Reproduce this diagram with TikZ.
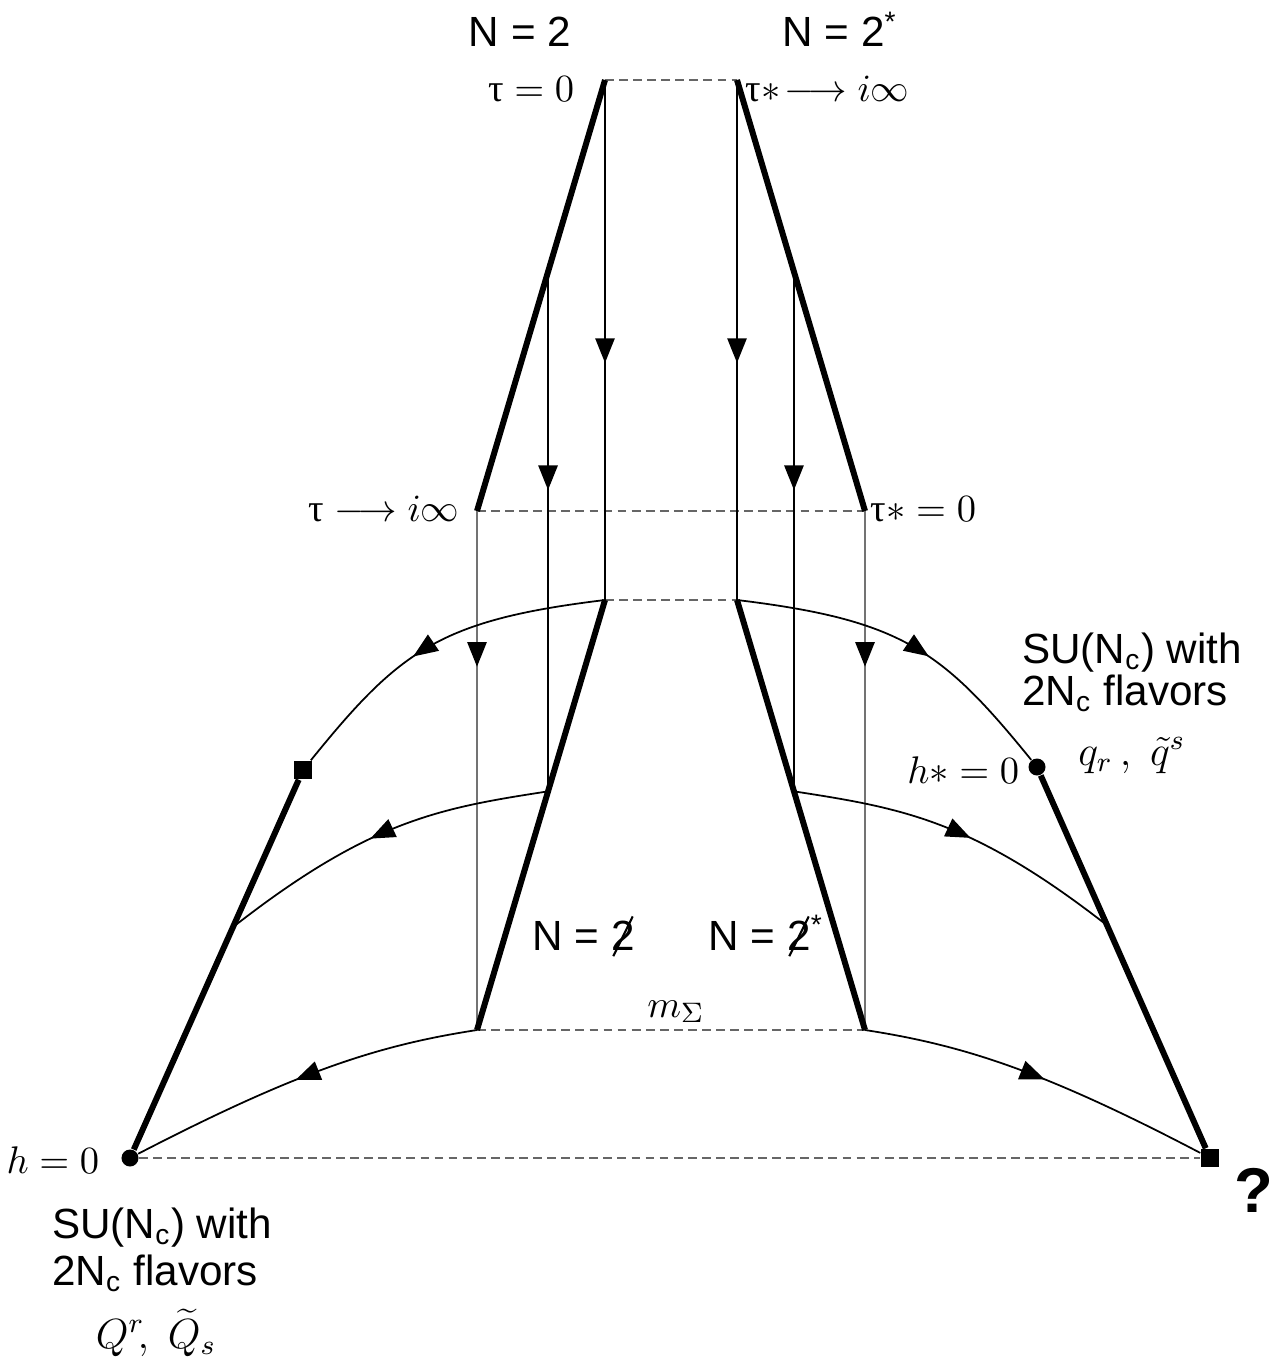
\documentclass[tikz,border=0pt]{standalone}
\usepackage{fontspec}
\setsansfont{Liberation Sans}
\newfontfamily\greekfont{Liberation Serif}
\usetikzlibrary{arrows.meta,decorations.markings,calc}
\newcommand{\tauup}{\mbox{\greekfont τ}}
\newcommand{\nottwo}{\ooalign{\hfil2\hfil\cr
    \hfil\raisebox{0.3em}[0pt][0pt]{\rotatebox[origin=c]{64}{\rule{1.05em}{0.05em}}}\hfil\cr}}

\begin{document}
\begin{tikzpicture}[x=0.01cm, y=-0.01cm, % 以像素为单位, y 向下
    thickline/.style={line width=1.7pt},
    thinline/.style={line width=0.5pt},
    grayline/.style={line width=0.5pt, black!55},
    guide/.style={line width=0.5pt, black!60, dash pattern=on 2.5pt off 1.5pt},
    midarrow/.style={postaction={decorate}, decoration={markings,
        mark=at position #1 with {\arrow[black]{Triangle[length=7pt, width=5.5pt]}}}},
    rdot/.style={circle, fill, inner sep=0pt, minimum size=0.17cm},
    sqdot/.style={rectangle, fill, inner sep=0pt, minimum size=0.18cm},
    sflabel/.style={font=\fontsize{12}{14}\selectfont\sffamily, inner sep=0pt},
    mathlabel/.style={font=\fontsize{11}{13}\selectfont, inner sep=0pt}]
    \useasboundingbox (0,0) rectangle (1283,1370);

    % --- 定义坐标和端点 ---
    \coordinate (topL) at (605,80);
    \coordinate (topR) at (737,80);
    \coordinate (midL) at (477,511);
    \coordinate (midR) at (865,511);
    \coordinate (cenL) at (605,600);
    \coordinate (cenR) at (737,600);
    \coordinate (lowL) at (477,1030);
    \coordinate (lowR) at (865,1030);
    \node[sqdot] (sqL) at (303,770) {};
    \node[rdot] (dotR) at (1037,767) {};
    \node[rdot] (dotL) at (130,1158) {};
    \node[sqdot] (sqR) at (1210,1158) {};

    % 粗线上的交点
    \coordinate (upL) at ($(topL)!0.445!(midL)$);
    \coordinate (upR) at ($(topR)!0.445!(midR)$);
    \coordinate (dnL) at ($(cenL)!0.445!(lowL)$);
    \coordinate (dnR) at ($(cenR)!0.445!(lowR)$);
    \coordinate (sideL) at ($(dotL)!0.595!(sqL)$);
    \coordinate (sideR) at ($(sqR)!0.595!(dotR)$);

    % --- 绘制虚线 ---
    \draw[guide] (topL) -- (topR);
    \draw[guide] (midL) -- (midR);
    \draw[guide] (cenL) -- (cenR);
    \draw[guide] (lowL) -- (lowR);
    \draw[guide] (dotL) -- (sqR);

    % --- 绘制竖直的流线 (向下) ---
    \draw[thinline, midarrow=0.544] (topL) -- (cenL);
    \draw[thinline, midarrow=0.544] (topR) -- (cenR);
    \draw[thinline, midarrow=0.42] (upL) -- (dnL);
    \draw[thinline, midarrow=0.42] (upR) -- (dnR);
    \draw[grayline, midarrow=0.30] (midL) -- (lowL);
    \draw[grayline, midarrow=0.30] (midR) -- (lowR);

    % --- 绘制弯曲的流线 (向外) ---
    % 左边
    \draw[thinline, midarrow=0.58] (cenL) .. controls (440,620) and (400,650) .. (sqL);
    \draw[thinline, midarrow=0.53] (dnL) .. controls (440,808) and (370,820) .. (sideL);
    \draw[thinline, midarrow=0.52] (lowL) .. controls (380,1045) and (300,1070) .. (dotL);
    % 右边
    \draw[thinline, midarrow=0.58] (cenR) .. controls (902,620) and (942,650) .. (dotR);
    \draw[thinline, midarrow=0.53] (dnR) .. controls (902,808) and (972,820) .. (sideR);
    \draw[thinline, midarrow=0.52] (lowR) .. controls (962,1045) and (1042,1070) .. (sqR);

    % --- 绘制粗线 ---
    \draw[thickline] (topL) -- (midL);
    \draw[thickline] (topR) -- (midR);
    \draw[thickline] (cenL) -- (lowL);
    \draw[thickline] (cenR) -- (lowR);
    \draw[thickline] (dotL) -- (sqL);
    \draw[thickline] (dotR) -- (sqR);

    % --- 添加标签 ---
    \node[sflabel, anchor=base] (nTwoL) at (520,47) {N = 2};
    \node[sflabel, anchor=base] (nTwoR) at (840,47) {N = 2\textsuperscript{*}};
    \node[mathlabel, anchor=base east] (tauZero) at (575,102) {$\tauup = 0$};
    \node[mathlabel, anchor=base west] (tauStarInf) at (745,102) {$\tauup{\ast}\!\longrightarrow i\infty$};
    \node[mathlabel, anchor=base east] (tauInf) at (460,521) {$\tauup \longrightarrow i\infty$};
    \node[mathlabel, anchor=base west] (tauStarZero) at (870,521) {$\tauup{\ast} = 0$};
    \node[sflabel, anchor=base west] (nBrokenL) at (532,950) {N = \nottwo};
    \node[sflabel, anchor=base west] (nBrokenR) at (708,950) {N = \nottwo\textsuperscript{*}};
    \node[mathlabel, anchor=base] (mSigma) at (676,1017) {$m_\Sigma$};
    \node[mathlabel, anchor=base east] (hStar) at (1020,783) {$h{\ast} = 0$};
    \node[mathlabel, anchor=base east] (hZero) at (100,1173) {$h = 0$};

    % 右边的理论
    \node[sflabel, anchor=base] (suR) at (1132,663) {SU(N\textsubscript{c}) with};
    \node[sflabel, anchor=base] (flavR) at (1125,705) {2N\textsubscript{c} flavors};
    \node[sflabel, font=\fontsize{12}{14}\selectfont, anchor=base] (quarkR) at (1132,765) {$q_r\,,\;\tilde{q}^s$};
    % 左边的理论
    \node[sflabel, anchor=base] (suL) at (162,1238) {SU(N\textsubscript{c}) with};
    \node[sflabel, anchor=base] (flavL) at (155,1285) {2N\textsubscript{c} flavors};
    \node[sflabel, font=\fontsize{12}{14}\selectfont, anchor=base] (quarkL) at (156,1348) {$Q^r\!,\;\widetilde{Q}_s$};
    \node[font=\fontsize{18}{20}\selectfont\sffamily\bfseries, inner sep=0pt] (qMark) at (1254,1190) {?};

\end{tikzpicture}
\end{document}
